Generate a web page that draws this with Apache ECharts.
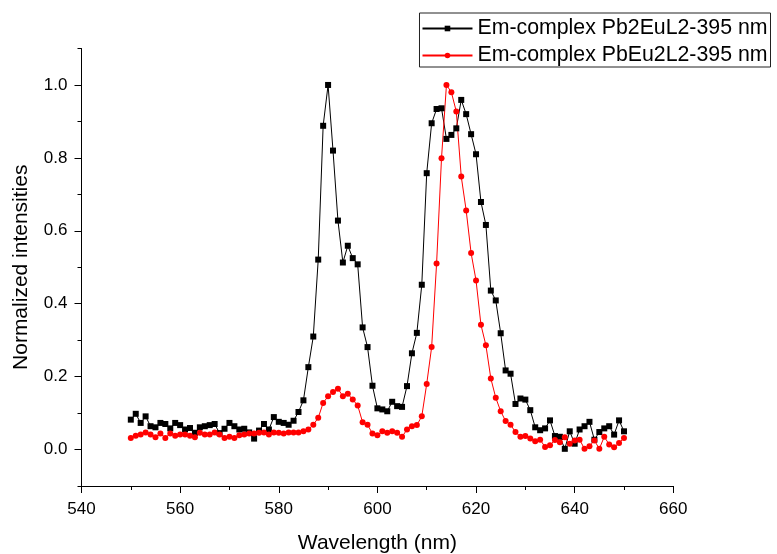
<!DOCTYPE html>
<html lang="en">
<head>
  <meta charset="UTF-8">
  <script src="https://cdn.jsdelivr.net/npm/echarts@6/dist/echarts.min.js"></script>
  <title>Emission spectra</title>
</head>
<body>
  <div id="chart"></div>
</body>
<style>
  html,body{
    padding: 0;
    margin: 0;
    background: #fff;
  }
  #chart {
    width: 777px;
    height: 554px;
  }
</style>
</html>
<script>
// wavelength (nm), 1 nm step
const wavelength = [
  550,551,552,553,554,555,556,557,558,559,560,561,562,563,564,565,566,567,568,569,
  570,571,572,573,574,575,576,577,578,579,580,581,582,583,584,585,586,587,588,589,
  590,591,592,593,594,595,596,597,598,599,600,601,602,603,604,605,606,607,608,609,
  610,611,612,613,614,615,616,617,618,619,620,621,622,623,624,625,626,627,628,629,
  630,631,632,633,634,635,636,637,638,639,640,641,642,643,644,645,646,647,648,649,
  650
]

// Em-complex Pb2EuL2-395 nm
const pb2eu = [
  0.082,0.098,0.073,0.091,0.064,0.061,0.073,0.070,0.058,0.073,0.067,0.055,0.059,0.046,0.061,0.064,0.067,0.070,0.045,0.057,
  0.073,0.064,0.055,0.057,0.047,0.030,0.052,0.070,0.055,0.089,0.076,0.073,0.068,0.079,0.103,0.135,0.226,0.310,0.521,0.888,
  1.000,0.820,0.628,0.513,0.559,0.525,0.508,0.335,0.281,0.175,0.113,0.110,0.105,0.131,0.119,0.117,0.174,0.264,0.320,0.452,
  0.758,0.895,0.934,0.936,0.852,0.863,0.881,0.959,0.920,0.865,0.810,0.679,0.616,0.436,0.409,0.319,0.217,0.208,0.125,0.140,
  0.137,0.108,0.061,0.053,0.058,0.080,0.037,0.035,0.002,0.050,0.016,0.055,0.064,0.076,0.027,0.048,0.058,0.064,0.041,0.080,
  0.050
]

// Em-complex PbEu2L2-395 nm
const pbeu2 = [
  0.032,0.038,0.041,0.047,0.041,0.034,0.044,0.032,0.044,0.038,0.041,0.041,0.038,0.034,0.046,0.041,0.041,0.047,0.041,0.032,
  0.035,0.032,0.039,0.041,0.044,0.044,0.046,0.047,0.041,0.047,0.046,0.044,0.047,0.047,0.047,0.050,0.055,0.068,0.087,0.128,
  0.146,0.158,0.167,0.146,0.153,0.137,0.121,0.075,0.068,0.044,0.039,0.050,0.046,0.050,0.046,0.035,0.055,0.064,0.067,0.091,
  0.180,0.281,0.510,0.799,1.000,0.980,0.927,0.749,0.656,0.539,0.464,0.342,0.286,0.195,0.142,0.105,0.078,0.068,0.048,0.035,
  0.037,0.030,0.023,0.027,0.007,0.012,0.026,0.020,0.034,0.016,0.025,0.027,0.002,0.009,0.025,0.002,0.035,0.014,0.006,0.018,
  0.032
]

const yMajorTicks = [0, 0.2, 0.4, 0.6, 0.8, 1.0]

const font = "'Liberation Sans', Arial, sans-serif"

const option = {
  animation: false,
  backgroundColor: '#fff',
  textStyle: { fontFamily: font, color: '#000' },
  grid: { left: 81.5, right: 103.7, top: 48.5, bottom: 68, outerBoundsMode: 'none', containLabel: false },
  legend: {
    right: 6.5,
    top: 13,
    orient: 'vertical',
    backgroundColor: '#fff',
    borderColor: '#222',
    borderWidth: 1,
    borderRadius: 0,
    padding: [5, 3, 1, 2],
    itemGap: 6,
    itemWidth: 50,
    itemHeight: 7,
    textStyle: { fontFamily: font, fontSize: 21.3, color: '#000' },
    data: ['Em-complex Pb2EuL2-395 nm', 'Em-complex PbEu2L2-395 nm']
  },
  xAxis: {
    type: 'value',
    min: 540,
    max: 660,
    interval: 20,
    name: 'Wavelength (nm)',
    nameLocation: 'middle',
    nameGap: 47,
    nameTextStyle: { fontFamily: font, fontSize: 21, color: '#000' },
    axisLine: { show: true, onZero: false, lineStyle: { color: '#000', width: 1 } },
    axisTick: { show: true, inside: false, length: 7, lineStyle: { color: '#000', width: 1 } },
    minorTick: { show: true, splitNumber: 2, length: 4, lineStyle: { color: '#000', width: 1 } },
    axisLabel: { fontFamily: font, fontSize: 17, color: '#000', margin: 15 },
    splitLine: { show: false }
  },
  yAxis: [
    {
      type: 'value',
      min: -0.1,
      max: 1.1,
      interval: 0.2,
      name: 'Normalized intensities',
      nameLocation: 'middle',
      nameGap: 50,
      nameTextStyle: { fontFamily: font, fontSize: 21, color: '#000' },
      axisLine: { show: true, onZero: false, lineStyle: { color: '#000', width: 1 } },
      // ticks from -0.1 in steps of 0.2 are the minor ticks
      axisTick: { show: true, inside: false, length: 4, lineStyle: { color: '#000', width: 1 } },
      axisLabel: {
        fontFamily: font, fontSize: 17, color: '#000', margin: 14,
        customValues: yMajorTicks,
        formatter: v => v.toFixed(1)
      },
      splitLine: { show: false }
    },
    {
      // major ticks only
      type: 'value',
      position: 'left',
      min: -0.1,
      max: 1.1,
      axisLine: { show: false },
      axisTick: { show: true, inside: false, length: 7, customValues: yMajorTicks, lineStyle: { color: '#000', width: 1 } },
      axisLabel: { show: false },
      splitLine: { show: false }
    }
  ],
  series: [
    {
      name: 'Em-complex Pb2EuL2-395 nm',
      type: 'line',
      data: wavelength.map((w, i) => [w, pb2eu[i]]),
      symbol: 'rect',
      symbolSize: 6,
      color: '#000',
      lineStyle: { color: '#000', width: 1 },
      itemStyle: { color: '#000' }
    },
    {
      name: 'Em-complex PbEu2L2-395 nm',
      type: 'line',
      data: wavelength.map((w, i) => [w, pbeu2[i]]),
      symbol: 'circle',
      symbolSize: 6,
      color: '#ff0000',
      lineStyle: { color: '#ff0000', width: 1 },
      itemStyle: { color: '#ff0000' }
    }
  ]
}

const chartDom = document.getElementById('chart')
const myChart = echarts.init(chartDom)
myChart.setOption(option)
</script>
